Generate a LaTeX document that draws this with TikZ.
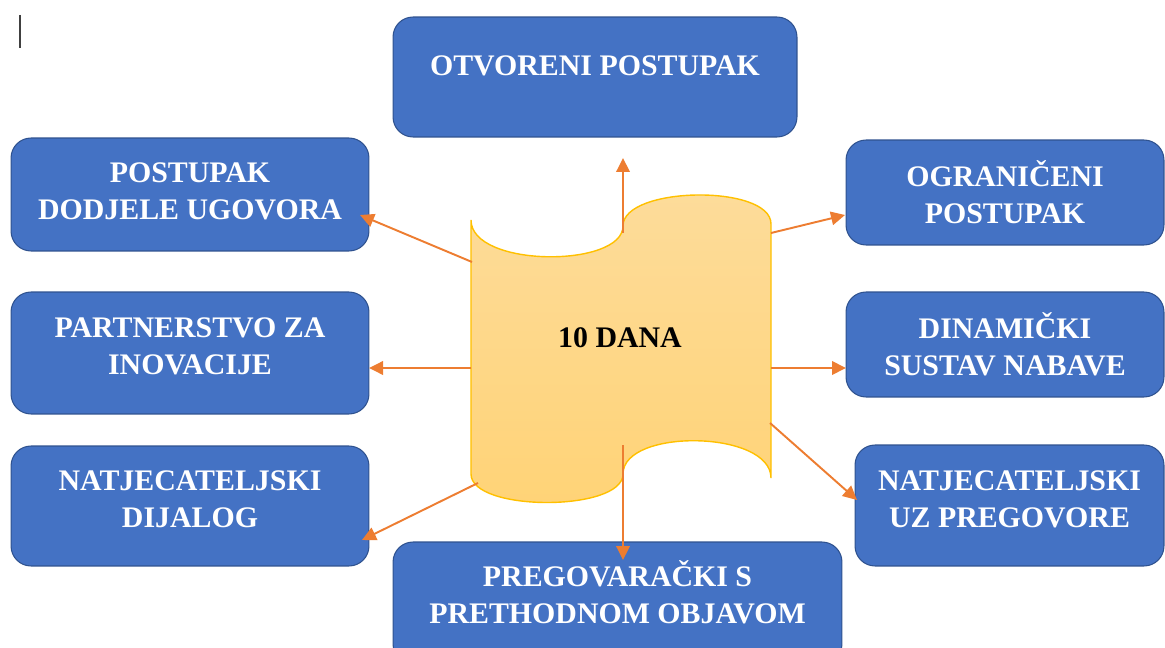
\documentclass[tikz,border=0pt]{standalone}
\usepackage{fontspec}
\setmainfont{Liberation Serif}
\usetikzlibrary{arrows.meta}
\definecolor{boxblue}{HTML}{4472C4}
\definecolor{boxline}{HTML}{2F528F}
\definecolor{arrorange}{HTML}{ED7D31}
\definecolor{flaggold}{HTML}{FFC000}
\definecolor{flagtop}{RGB}{253,220,155}
\definecolor{flagbot}{RGB}{255,211,118}

\begin{document}
\begin{tikzpicture}
  [x=0.02cm,y=-0.02cm,
  box/.style={rectangle,rounded corners=0.4cm,draw=boxline,line width=0.6pt,fill=boxblue,text=white,
    font=\fontsize{17}{21}\selectfont\bfseries,align=center,inner sep=0pt},
  flag/.style={top color=flagtop,bottom color=flagbot,draw=flaggold,line width=0.8pt},
  arr/.style={arrorange,line width=1.1pt,-{Triangle[length=0.28cm,width=0.27cm]}}]
  \clip (0,0) rectangle (1165,648);

  \draw [black!75,line width=0.8pt] (20,15) -- (20,48);

  \node[box,minimum width=8.08cm,minimum height=2.4cm,text depth=0.44cm] (otvoreni) at (595,77) {OTVORENI POSTUPAK};
  \node[box,minimum width=7.16cm,minimum height=2.26cm,text depth=0.12cm] (dodjela) at (190,194.5) {POSTUPAK\\DODJELE UGOVORA};
  \node[box,minimum width=6.36cm,minimum height=2.1cm] (ograniceni) at (1005,192.5) {OGRANIČENI\\POSTUPAK};
  \node[box,minimum width=7.16cm,minimum height=2.44cm,text depth=0.26cm] (partnerstvo) at (190,353) {PARTNERSTVO ZA\\INOVACIJE};
  \node[box,minimum width=6.36cm,minimum height=2.1cm] (dinamicki) at (1005,344.5) {DINAMIČKI\\SUSTAV NABAVE};
  \node[box,minimum width=7.16cm,minimum height=2.4cm,text depth=0.28cm] (dijalog) at (190,506) {NATJECATELJSKI\\DIJALOG};
  \node[box,minimum width=6.18cm,minimum height=2.42cm,text depth=0.26cm] (pregovori) at (1009.5,505.5) {NATJECATELJSKI\\UZ PREGOVORE};
  \node[box,minimum width=8.98cm,minimum height=2.44cm,text depth=0.44cm] (objava) at (617.5,603) {PREGOVARAČKI S\\PRETHODNOM OBJAVOM};

  \draw [flag] (471,220) .. controls (471,268) and (623,268) .. (623,226)
    .. controls (623,186) and (771,184) .. (771,224) -- (771,478)
    .. controls (771,430) and (623,428) .. (623,474)
    .. controls (623,512) and (471,512) .. (471,474) -- cycle;
  \node[font=\fontsize{17}{21}\selectfont\bfseries] (dana) at (620,338) {10 DANA};

  \coordinate (s1) at (623,233);   \coordinate (e1) at (623,158);
  \coordinate (s2) at (472,262);   \coordinate (e2) at (360,215);
  \coordinate (s3) at (771,233);   \coordinate (e3) at (845,215);
  \coordinate (s4) at (471,368);   \coordinate (e4) at (369,368);
  \coordinate (s5) at (771,368);   \coordinate (e5) at (846,368);
  \coordinate (s6) at (478,483);   \coordinate (e6) at (362,540);
  \coordinate (s7) at (770,423);   \coordinate (e7) at (857,500);
  \coordinate (s8) at (623,445);   \coordinate (e8) at (623,560);

  \draw [arr] (s1) -- (e1);
  \draw [arr] (s2) -- (e2);
  \draw [arr] (s3) -- (e3);
  \draw [arr] (s4) -- (e4);
  \draw [arr] (s5) -- (e5);
  \draw [arr] (s6) -- (e6);
  \draw [arr] (s7) -- (e7);
  \draw [arr] (s8) -- (e8);
\end{tikzpicture}
\end{document}
